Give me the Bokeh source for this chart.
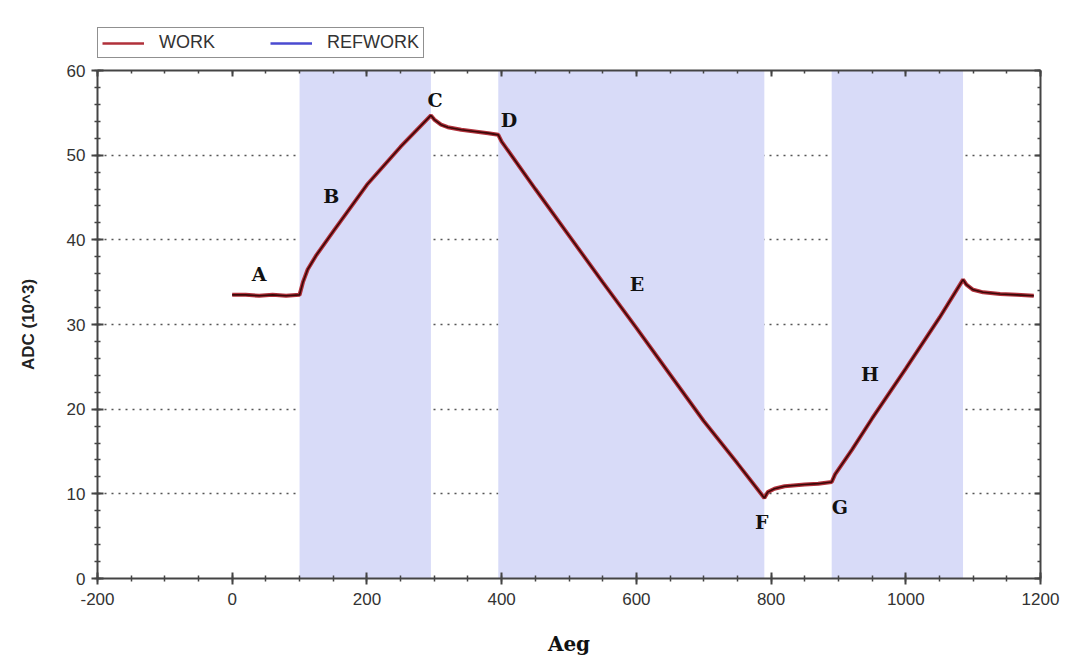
from bokeh.plotting import figure
from bokeh.layouts import column
from bokeh.models import (Range1d, LinearAxis, BoxAnnotation, Legend, LegendItem,
                          SingleIntervalTicker, ColumnDataSource, CustomJSTickFormatter)
from bokeh.core.properties import value
from bokeh.embed import file_html
from bokeh.resources import INLINE

# ---- data ----
aeg = [0, 20, 40, 60, 80, 100, 105, 112, 125, 150, 200, 250, 295,
       300, 310, 320, 340, 360, 380, 395,
       400, 450, 500, 550, 600, 650, 700, 750, 790,
       795, 805, 820, 850, 870, 890,
       895, 920, 950, 1000, 1050, 1085,
       1090, 1100, 1115, 1140, 1165, 1190]
work = [33.5, 33.5, 33.4, 33.5, 33.4, 33.5, 35.0, 36.5, 38.2, 41.0, 46.5, 51.0, 54.7,
        54.2, 53.6, 53.3, 53.0, 52.8, 52.6, 52.4,
        51.6, 46.0, 40.5, 35.0, 29.6, 24.1, 18.6, 13.6, 9.5,
        10.2, 10.6, 10.9, 11.1, 11.2, 11.4,
        12.3, 15.2, 18.9, 24.8, 30.8, 35.3,
        34.7, 34.1, 33.8, 33.6, 33.5, 33.4]
refwork = list(work)

shade_start = [100, 395, 890]
shade_end = [295, 790, 1085]

point_labels = ["A", "B", "C", "D", "E", "F", "G", "H"]
label_x = [40, 147, 301, 411, 601, 786, 902, 947]
label_y = [36.0, 45.2, 56.5, 54.2, 34.8, 6.7, 8.5, 24.2]

x_ticks = [-200, 0, 200, 400, 600, 800, 1000, 1200]
y_ticks = [0, 10, 20, 30, 40, 50, 60]

WORK_COLOR = "#b0303a"
REF_COLOR = "#4a4ad0"

# ---- legend strip (above the chart) ----
lf = figure(width=1065, height=62, output_backend="svg", toolbar_location=None,
            x_range=Range1d(-5000, -4999), y_range=Range1d(0, 1),
            min_border_left=0, min_border_right=0, min_border_top=0, min_border_bottom=0)
lf.axis.visible = False
lf.grid.visible = False
lf.outline_line_color = None
proxy_src = ColumnDataSource(dict(x=aeg, work=work, ref=refwork))
# same series, outside this strip's visible range: used only as legend keys
lw = lf.line("x", "work", source=proxy_src, line_color=WORK_COLOR, line_width=2.5)
lr = lf.line("x", "ref", source=proxy_src, line_color=REF_COLOR, line_width=2.5)
legend = Legend(items=[LegendItem(label="WORK", renderers=[lw]),
                       LegendItem(label="REFWORK", renderers=[lr])],
                orientation="horizontal", location=(0, 4),
                border_line_color="#222222", border_line_width=1.5,
                label_text_font="Liberation Sans", label_text_font_size="18px",
                label_text_color="#333333", glyph_width=42, glyph_height=14,
                label_standoff=15, spacing=55, padding=4, margin=0,
                label_height=14, background_fill_alpha=1.0)
lf.add_layout(legend, "center")

# ---- main chart ----
p = figure(width=1065, height=597, output_backend="svg", toolbar_location=None,
           x_range=Range1d(-200, 1200), y_range=Range1d(0, 60),
           min_border_left=97, min_border_right=25, min_border_top=8, min_border_bottom=81)
p.outline_line_color = None
p.background_fill_color = "white"
p.border_fill_color = "white"

for s, e in zip(shade_start, shade_end):
    p.add_layout(BoxAnnotation(left=s, right=e, fill_color="#d8dbf8", fill_alpha=1.0,
                               line_color=None, level="underlay"))

src = ColumnDataSource(dict(x=aeg, work=work, ref=refwork))
p.line("x", "ref", source=src, line_color=REF_COLOR, line_width=2)
p.line("x", "work", source=src, line_color=WORK_COLOR, line_width=4)
p.line("x", "work", source=src, line_color="#3a0808", line_width=1.6)

lsrc = ColumnDataSource(dict(x=label_x, y=label_y, t=point_labels))
p.text("x", "y", text="t", source=lsrc, text_font=value("DejaVu Serif"),
       text_font_style="bold", text_font_size="19px", text_align="center",
       text_baseline="middle", text_color="#111111")

def style_axis(ax):
    ax.axis_line_color = "#444444"
    ax.axis_line_width = 2
    ax.major_tick_line_color = "#444444"
    ax.minor_tick_line_color = "#444444"
    ax.major_tick_line_width = 2
    ax.minor_tick_line_width = 1.5
    ax.major_label_text_font = "Liberation Sans"
    ax.major_label_text_font_size = "17px"
    ax.major_label_text_color = "#333333"

xa = p.xaxis[0]
xa.ticker = SingleIntervalTicker(interval=200, num_minor_ticks=4)
xa.major_label_overrides = {t: str(t) for t in x_ticks}
style_axis(xa)
xa.major_tick_in = 6
xa.major_tick_out = 6
xa.minor_tick_in = 3
xa.minor_tick_out = 3
xa.major_label_standoff = 8
xa.axis_label = "Aeg"
xa.axis_label_text_font = "DejaVu Serif"
xa.axis_label_text_font_style = "bold"
xa.axis_label_text_font_size = "20px"
xa.axis_label_text_color = "#111111"
xa.axis_label_standoff = 24

ya = p.yaxis[0]
ya.ticker = SingleIntervalTicker(interval=10, num_minor_ticks=5)
ya.major_label_overrides = {t: str(t) for t in y_ticks}
style_axis(ya)
ya.major_tick_in = 6
ya.major_tick_out = 6
ya.minor_tick_in = 3
ya.minor_tick_out = 3
ya.major_label_standoff = 6
ya.axis_label = "ADC (10^3)"
ya.axis_label_text_font = "Liberation Sans"
ya.axis_label_text_font_style = "bold"
ya.axis_label_text_font_size = "17px"
ya.axis_label_text_color = "#222222"
ya.axis_label_standoff = 26

top = LinearAxis(ticker=SingleIntervalTicker(interval=200, num_minor_ticks=4))
right = LinearAxis(ticker=SingleIntervalTicker(interval=10, num_minor_ticks=5))
for ax in (top, right):
    style_axis(ax)
    ax.major_tick_in = 6
    ax.major_tick_out = 0
    ax.minor_tick_in = 3
    ax.minor_tick_out = 0
    ax.formatter = CustomJSTickFormatter(code="return '';")
    ax.major_label_standoff = 0
p.add_layout(top, "above")
p.add_layout(right, "right")

p.xgrid.visible = False
p.ygrid.ticker = SingleIntervalTicker(interval=10)
p.ygrid.grid_line_color = "#555555"
p.ygrid.grid_line_dash = "2 5"
p.ygrid.grid_line_width = 1.5

layout = column(lf, p, spacing=0)
open("out.html", "w").write(file_html(layout, INLINE))
